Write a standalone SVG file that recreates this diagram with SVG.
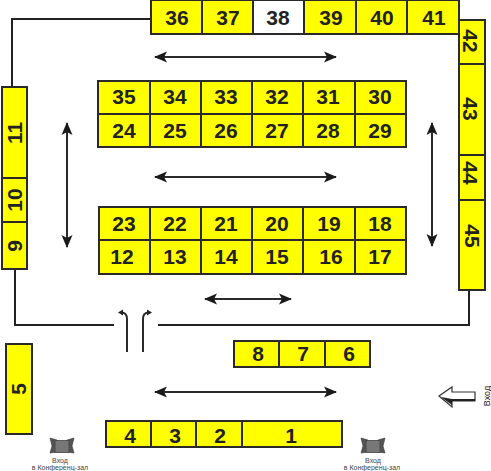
<svg xmlns="http://www.w3.org/2000/svg" width="491" height="471" viewBox="0 0 491 471">
<defs>
<marker id="a" markerWidth="14" markerHeight="12" refX="12" refY="6" orient="auto-start-reverse" markerUnits="userSpaceOnUse"><path d="M13 6L0 0.5L3 6L0 11.5Z" fill="#1a1a1a"/></marker>
<g id="door"><path d="M-12 -8L-5 -6V6L-12 7L-10 0Z" fill="#555" stroke="#333" stroke-width=".6"/><path d="M12 -8L5 -6V6L12 7L10 0Z" fill="#555" stroke="#333" stroke-width=".6"/><rect x="-7" y="-5.500" width="14" height="12" fill="#777" stroke="#444" stroke-width=".8"/></g>
</defs>
<style>
.c rect{fill:#ff0;stroke:#2a2a2a;stroke-width:2}
.w rect{fill:#fff;stroke:#2a2a2a;stroke-width:2}
text{font-family:"Liberation Sans",Arial,sans-serif;fill:#222}
.c text,.w text{font-size:21px;font-weight:bold;text-anchor:middle}
.s{font-size:7px;text-anchor:middle;fill:#444}
.l{fill:none;stroke:#222;stroke-width:2}
.d{fill:none;stroke:#2a2a2a;stroke-width:2}
.h{fill:#222}
</style>
<g id="connectors">
<path class="l" d="M151 19H12V87"/>
<path class="l" d="M15 269V325H114"/>
<path class="l" d="M158 325H469V290"/>
<path class="d" d="M127 352V319Q127 313 122 312.500"/>
<path class="h" d="M118 312.500L123 309.500V315.500Z"/>
<path class="d" d="M143 352V319Q143 313 148 312.500"/>
<path class="h" d="M152 312.500L147 309.500V315.500Z"/>
<path class="d" d="M155 57H336" marker-start="url(#a)" marker-end="url(#a)"/>
<path class="d" d="M155 177H336" marker-start="url(#a)" marker-end="url(#a)"/>
<path class="d" d="M205 299H291" marker-start="url(#a)" marker-end="url(#a)"/>
<path class="d" d="M155 392H336" marker-start="url(#a)" marker-end="url(#a)"/>
<path class="d" d="M67 123V247" marker-start="url(#a)" marker-end="url(#a)"/>
<path class="d" d="M432 123V246" marker-start="url(#a)" marker-end="url(#a)"/>
</g>
<g id="n36" class="c"><rect x="151" y="0" width="51" height="34"/><text x="177" y="25">36</text></g>
<g id="n37" class="c"><rect x="202" y="0" width="51" height="34"/><text x="228" y="25">37</text></g>
<g id="n38" class="w"><rect x="253" y="0" width="51" height="34"/><text x="278" y="25">38</text></g>
<g id="n39" class="c"><rect x="304" y="0" width="52" height="34"/><text x="331" y="25">39</text></g>
<g id="n40" class="c"><rect x="356" y="0" width="51" height="34"/><text x="382" y="25">40</text></g>
<g id="n41" class="c"><rect x="407" y="0" width="52" height="34"/><text x="434" y="25">41</text></g>
<g id="n42" class="c"><rect x="459" y="20" width="26" height="44"/><text transform="translate(463 41) rotate(90)">42</text></g>
<g id="n43" class="c"><rect x="459" y="64" width="26" height="91"/><text transform="translate(463 109) rotate(90)">43</text></g>
<g id="n44" class="c"><rect x="459" y="155" width="26" height="45"/><text transform="translate(463 173) rotate(90)">44</text></g>
<g id="n45" class="c"><rect x="459" y="200" width="26" height="90"/><text transform="translate(465 236) rotate(90)">45</text></g>
<g id="n11" class="c"><rect x="2" y="87" width="25" height="91"/><text transform="translate(22 133) rotate(-90)">11</text></g>
<g id="n10" class="c"><rect x="2" y="178" width="25" height="44"/><text transform="translate(22 200) rotate(-90)">10</text></g>
<g id="n9" class="c"><rect x="2" y="222" width="25" height="47"/><text transform="translate(22 246) rotate(-90)">9</text></g>
<g id="n35" class="c"><rect x="98" y="81" width="52" height="33"/><text x="124" y="104">35</text></g>
<g id="n34" class="c"><rect x="150" y="81" width="51" height="33"/><text x="175" y="104">34</text></g>
<g id="n33" class="c"><rect x="201" y="81" width="51" height="33"/><text x="226" y="104">33</text></g>
<g id="n32" class="c"><rect x="252" y="81" width="51" height="33"/><text x="277" y="104">32</text></g>
<g id="n31" class="c"><rect x="303" y="81" width="52" height="33"/><text x="328" y="104">31</text></g>
<g id="n30" class="c"><rect x="355" y="81" width="51" height="33"/><text x="380" y="104">30</text></g>
<g id="n24" class="c"><rect x="98" y="114" width="52" height="33"/><text x="124" y="138">24</text></g>
<g id="n25" class="c"><rect x="150" y="114" width="51" height="33"/><text x="175" y="138">25</text></g>
<g id="n26" class="c"><rect x="201" y="114" width="51" height="33"/><text x="226" y="138">26</text></g>
<g id="n27" class="c"><rect x="252" y="114" width="51" height="33"/><text x="277" y="138">27</text></g>
<g id="n28" class="c"><rect x="303" y="114" width="52" height="33"/><text x="328" y="138">28</text></g>
<g id="n29" class="c"><rect x="355" y="114" width="51" height="33"/><text x="380" y="138">29</text></g>
<g id="n23" class="c"><rect x="99" y="207" width="51" height="33"/><text x="124" y="231">23</text></g>
<g id="n22" class="c"><rect x="150" y="207" width="51" height="33"/><text x="175" y="231">22</text></g>
<g id="n21" class="c"><rect x="201" y="207" width="51" height="33"/><text x="226" y="231">21</text></g>
<g id="n20" class="c"><rect x="252" y="207" width="51" height="33"/><text x="277" y="231">20</text></g>
<g id="n19" class="c"><rect x="303" y="207" width="52" height="33"/><text x="329" y="231">19</text></g>
<g id="n18" class="c"><rect x="355" y="207" width="51" height="33"/><text x="380" y="231">18</text></g>
<g id="n12" class="c"><rect x="99" y="240" width="51" height="34"/><text x="122" y="264">12</text></g>
<g id="n13" class="c"><rect x="150" y="240" width="51" height="34"/><text x="175" y="264">13</text></g>
<g id="n14" class="c"><rect x="201" y="240" width="51" height="34"/><text x="226" y="264">14</text></g>
<g id="n15" class="c"><rect x="252" y="240" width="51" height="34"/><text x="277" y="264">15</text></g>
<g id="n16" class="c"><rect x="303" y="240" width="52" height="34"/><text x="331" y="264">16</text></g>
<g id="n17" class="c"><rect x="355" y="240" width="51" height="34"/><text x="380" y="264">17</text></g>
<g id="n8" class="c"><rect x="234" y="341" width="45" height="26"/><text x="258" y="361">8</text></g>
<g id="n7" class="c"><rect x="279" y="341" width="46" height="26"/><text x="303" y="361">7</text></g>
<g id="n6" class="c"><rect x="325" y="341" width="45" height="26"/><text x="349" y="361">6</text></g>
<g id="n5" class="c"><rect x="6" y="344" width="26" height="90"/><text transform="translate(26 389) rotate(-90)">5</text></g>
<g id="n4" class="c"><rect x="106" y="421" width="45" height="26"/><text x="130" y="443">4</text></g>
<g id="n3" class="c"><rect x="151" y="421" width="45" height="26"/><text x="175" y="443">3</text></g>
<g id="n2" class="c"><rect x="196" y="421" width="46" height="26"/><text x="220" y="443">2</text></g>
<g id="n1" class="c"><rect x="242" y="421" width="100" height="26"/><text x="291" y="443">1</text></g>
<g id="entry"><path d="M439 396L452 387V392H475V401H452V407Z" fill="#fff" stroke="#333" stroke-width="1.200"/><path d="M441 397L452 405V401H475V399H452Z" fill="#222"/><text transform="translate(490 396) rotate(-90)" style="font-size:9px;text-anchor:middle">Вход</text></g>
<g id="door-left"><use href="#door" x="62" y="446"/><text class="s" x="60" y="463">Вход</text><text class="s" x="60" y="470">в Конференц-зал</text></g>
<g id="door-right"><use href="#door" x="373" y="446"/><text class="s" x="373" y="463">Вход</text><text class="s" x="372" y="470">в Конференц-зал</text></g>
</svg>
